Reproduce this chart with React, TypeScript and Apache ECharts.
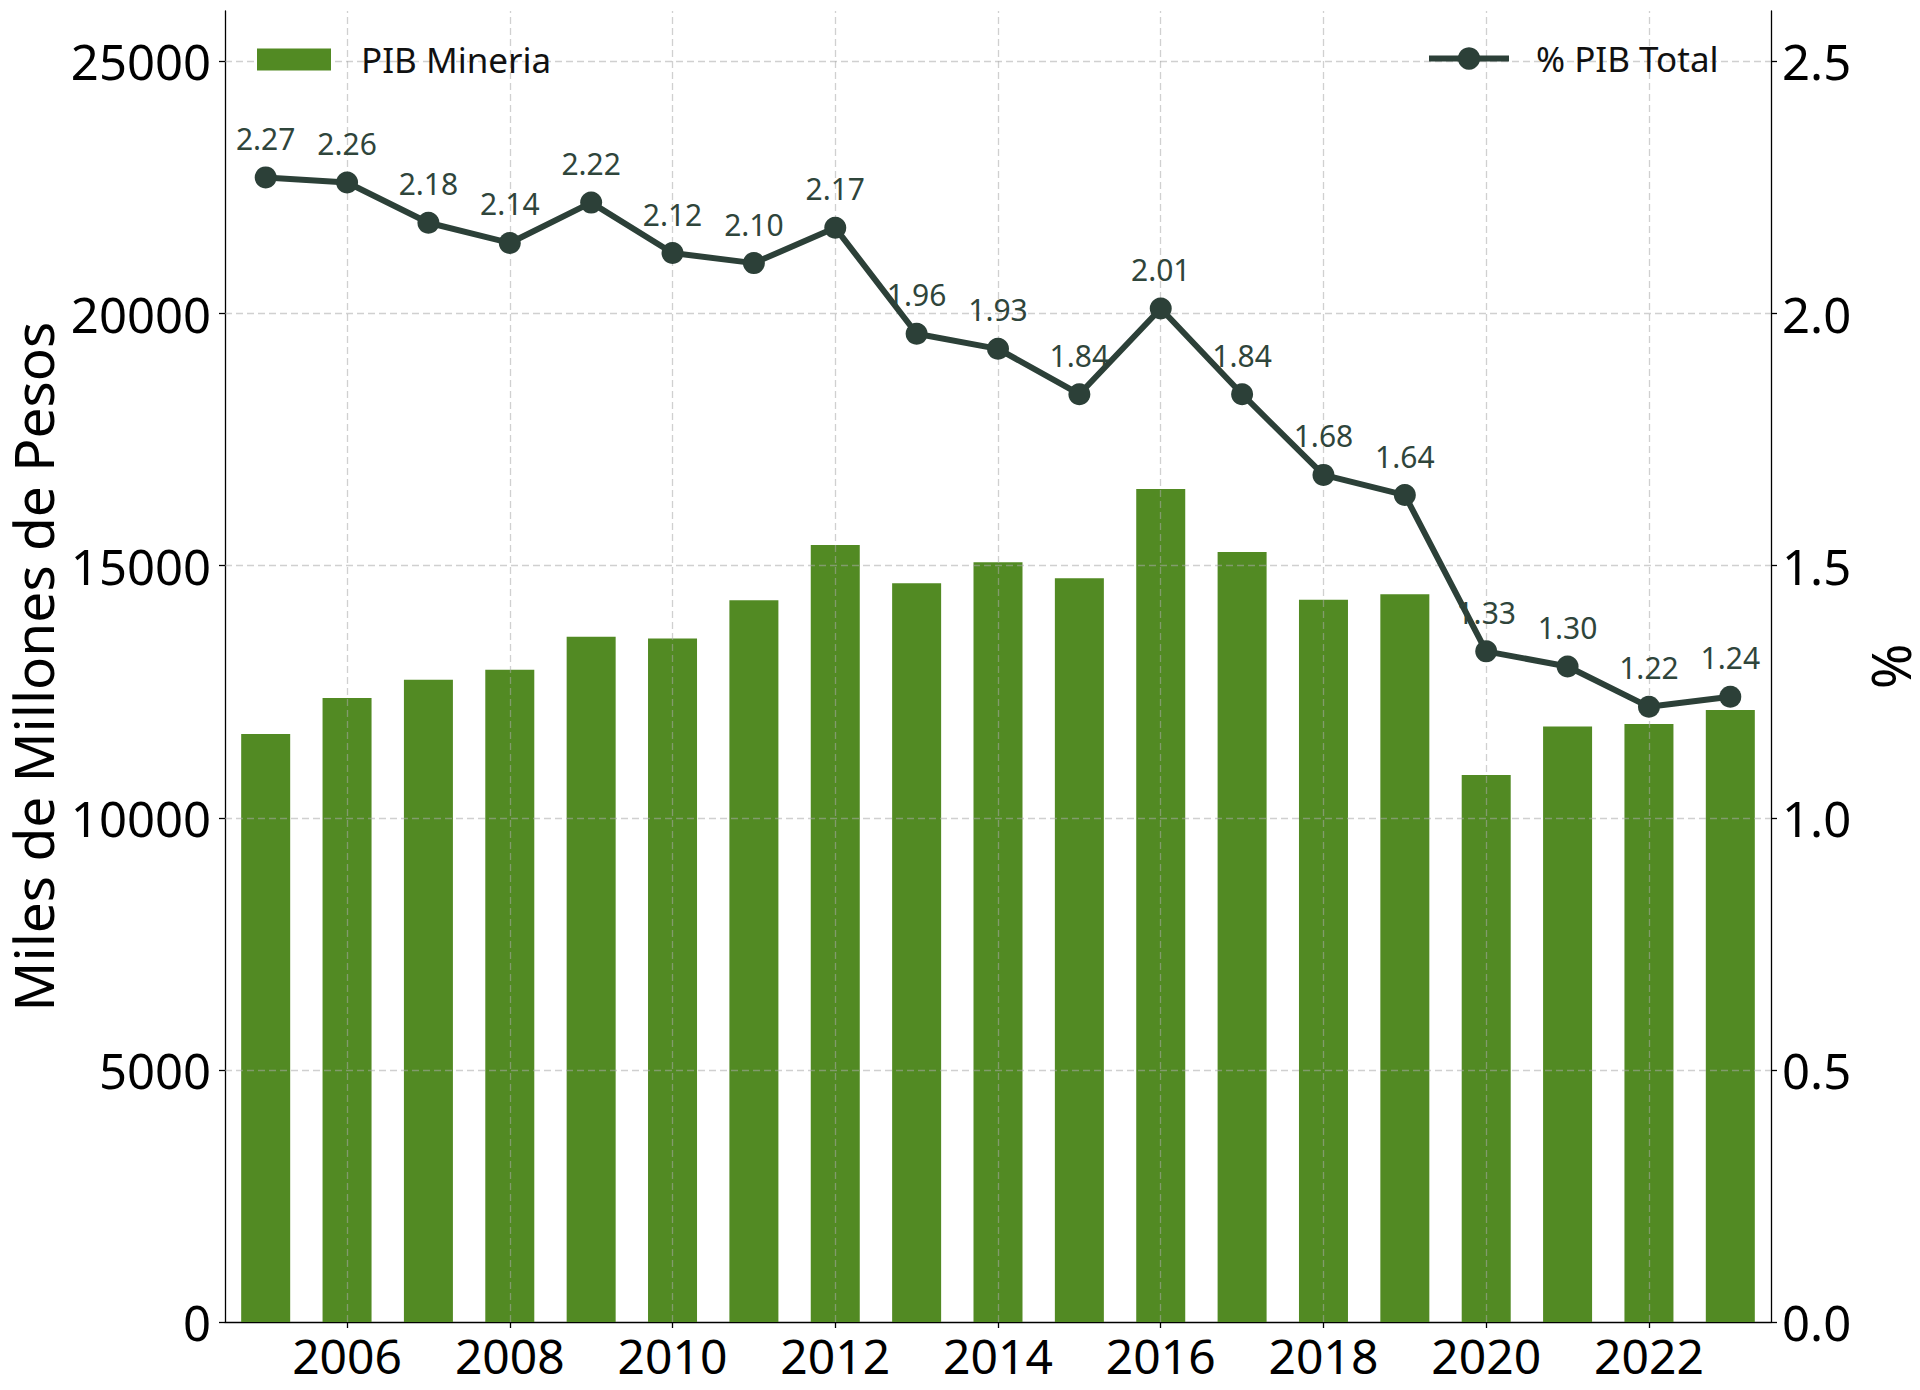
import React, { useEffect, useRef } from "react";
import * as echarts from "echarts";

const years = [2005, 2006, 2007, 2008, 2009, 2010, 2011, 2012, 2013, 2014, 2015, 2016, 2017, 2018, 2019, 2020, 2021, 2022, 2023];
const pibMineria = [11659, 12375, 12738, 12934, 13588, 13553, 14314, 15412, 14651, 15067, 14750, 16518, 15270, 14322, 14433, 10849, 11808, 11860, 12139];
const pctPibTotal = [2.27, 2.26, 2.18, 2.14, 2.22, 2.12, 2.10, 2.17, 1.96, 1.93, 1.84, 2.01, 1.84, 1.68, 1.64, 1.33, 1.30, 1.22, 1.24];
const xTickYears = [2006, 2008, 2010, 2012, 2014, 2016, 2018, 2020, 2022];
const leftTicks = [0, 5000, 10000, 15000, 20000, 25000];
const rightTicks = [0, 0.5, 1.0, 1.5, 2.0, 2.5];

const FONT = "Noto Sans";
const BAR_COLOR = "#528A23";
const LINE_COLOR = "#2C4038";
const GRID_COLOR = "rgba(170,170,170,0.55)";

export default function App() {
  const ref = useRef<HTMLDivElement>(null);

  useEffect(() => {
    document.body.style.margin = "0";
    if (!ref.current) return;
    const chart = echarts.init(ref.current, undefined, { renderer: "svg" });

    const gridMarks = [
      ...xTickYears.map((y) => ({ xAxis: y })),
      ...leftTicks.filter((v) => v > 0).map((v) => ({ yAxis: v })),
    ];

    chart.setOption({
      animation: false,
      backgroundColor: "#ffffff",
      textStyle: { fontFamily: FONT },
      grid: { left: 225, right: 149, top: 11, bottom: 68, containLabel: false, outerBoundsMode: "none" },
      legend: [
        {
          data: ["PIB Mineria"],
          icon: "rect",
          left: 257,
          top: 42,
          padding: 0,
          itemWidth: 74,
          itemHeight: 22,
          textStyle: { fontSize: 35, color: "#111", fontFamily: FONT, padding: [0, 0, 0, 25] },
        },
        {
          data: ["% PIB Total"],
          left: 1426,
          top: 41,
          padding: 0,
          itemWidth: 80,
          itemHeight: 28,
          lineStyle: { width: 6, color: LINE_COLOR },
          textStyle: { fontSize: 35, color: "#111", fontFamily: FONT, padding: [0, 0, 0, 22] },
        },
      ],
      xAxis: {
        type: "value",
        min: 2004.5,
        max: 2023.5,
        axisLine: { show: true, onZero: false, lineStyle: { color: "#000", width: 1.3 } },
        axisTick: { show: true, length: 6, customValues: xTickYears, lineStyle: { color: "#000", width: 1.3 } },
        axisLabel: {
          customValues: xTickYears,
          formatter: (v: number) => String(v),
          fontSize: 48,
          color: "#000",
          margin: 9,
          fontFamily: FONT,
        },
        splitLine: { show: false },
      },
      yAxis: [
        {
          type: "value",
          min: 0,
          max: 26000,
          name: "Miles de Millones de Pesos",
          nameLocation: "middle",
          nameRotate: 90,
          nameGap: 163,
          nameTextStyle: { fontSize: 55, color: "#000", fontFamily: FONT },
          axisLine: { show: true, lineStyle: { color: "#000", width: 1.3 } },
          axisTick: { show: true, length: 6, customValues: leftTicks, lineStyle: { color: "#000", width: 1.3 } },
          axisLabel: {
            customValues: leftTicks,
            formatter: (v: number) => String(v),
            fontSize: 49,
            color: "#000",
            margin: 14,
            fontFamily: FONT,
          },
          splitLine: { show: false },
        },
        {
          type: "value",
          min: 0,
          max: 2.6,
          position: "right",
          name: "%",
          nameLocation: "middle",
          nameRotate: 90,
          nameGap: 74,
          nameTextStyle: { fontSize: 55, color: "#000", fontFamily: FONT },
          axisLine: { show: true, lineStyle: { color: "#000", width: 1.3 } },
          axisTick: { show: true, length: 6, customValues: rightTicks, lineStyle: { color: "#000", width: 1.3 } },
          axisLabel: {
            customValues: rightTicks,
            formatter: (v: number) => v.toFixed(1),
            fontSize: 49,
            color: "#000",
            margin: 11,
            fontFamily: FONT,
          },
          splitLine: { show: false },
        },
      ],
      series: [
        {
          name: "PIB Mineria",
          type: "bar",
          xAxisIndex: 0,
          yAxisIndex: 0,
          barWidth: 49,
          z: 2,
          itemStyle: { color: BAR_COLOR },
          data: years.map((y, i) => [y, pibMineria[i]]),
          markLine: {
            silent: true,
            z: 3,
            symbol: ["none", "none"],
            label: { show: false },
            emphasis: { disabled: true },
            lineStyle: { color: GRID_COLOR, type: [7, 4], width: 1.3 },
            data: gridMarks,
          },
        },
        {
          name: "% PIB Total",
          type: "line",
          xAxisIndex: 0,
          yAxisIndex: 1,
          z: 10,
          symbol: "circle",
          symbolSize: 22,
          lineStyle: { color: LINE_COLOR, width: 6 },
          itemStyle: { color: LINE_COLOR },
          label: {
            show: true,
            position: "top",
            distance: 13,
            fontSize: 30,
            color: "#2F453B",
            fontFamily: FONT,
            formatter: (p: any) => p.value[1].toFixed(2),
          },
          data: years.map((y, i) => [y, pctPibTotal[i]]),
        },
      ],
    });

    return () => chart.dispose();
  }, []);

  return <div ref={ref} style={{ width: 1920, height: 1390 }} />;
}
